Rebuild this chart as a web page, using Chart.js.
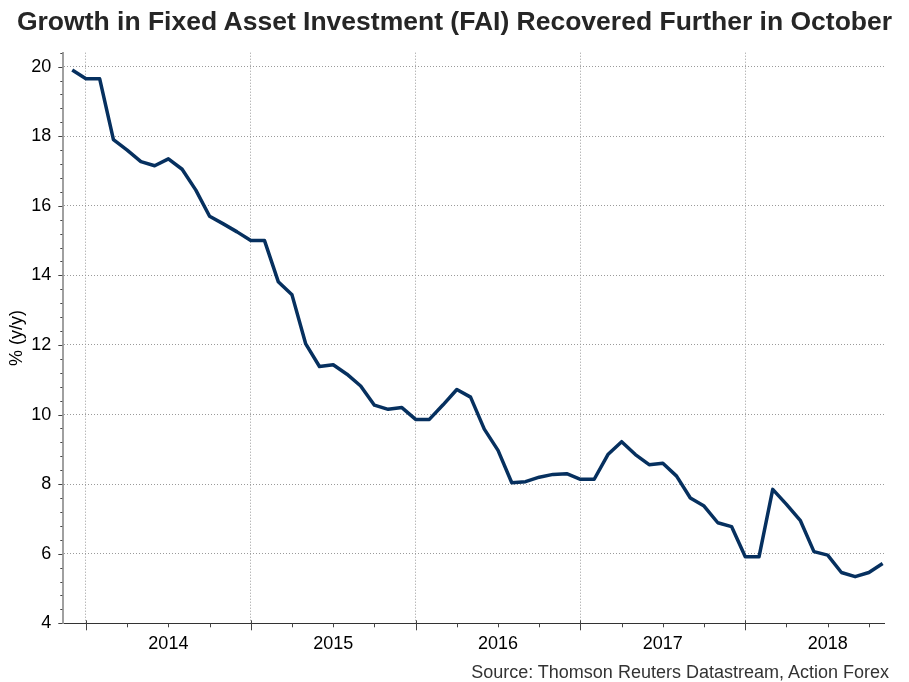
<!DOCTYPE html>
<html>
<head>
<meta charset="utf-8">
<script src="https://cdn.jsdelivr.net/npm/chart.js@4"></script>
<style>
  body{margin:0;background:#fff;}
  #wrap{position:relative;width:909px;height:682px;font-family:"Liberation Sans",Arial,sans-serif;}
  #title{position:absolute;left:0;top:8px;width:909px;text-align:center;font-weight:bold;font-size:26.5px;line-height:26.5px;color:#262626;white-space:nowrap;}
  #source{position:absolute;right:20px;top:663px;font-size:18px;line-height:18px;color:#333;white-space:nowrap;}
  #box{position:absolute;left:0;top:0;width:909px;height:682px;}
</style>
</head>
<body>
<div id="wrap">
  <div id="box"><canvas id="faiChart"></canvas></div>
  <div id="title">Growth in Fixed Asset Investment (FAI) Recovered Further in October</div>
  <div id="source">Source: Thomson Reuters Datastream, Action Forex</div>
</div>
<script>
// monthly, end of month (Dec at the year line)
const months = [
  "2013-11","2013-12",
  "2014-01","2014-02","2014-03","2014-04","2014-05","2014-06","2014-07","2014-08","2014-09","2014-10","2014-11","2014-12",
  "2015-01","2015-02","2015-03","2015-04","2015-05","2015-06","2015-07","2015-08","2015-09","2015-10","2015-11","2015-12",
  "2016-01","2016-02","2016-03","2016-04","2016-05","2016-06","2016-07","2016-08","2016-09","2016-10","2016-11","2016-12",
  "2017-01","2017-02","2017-03","2017-04","2017-05","2017-06","2017-07","2017-08","2017-09","2017-10","2017-11","2017-12",
  "2018-01","2018-02","2018-03","2018-04","2018-05","2018-06","2018-07","2018-08","2018-09","2018-10"
];
const faiGrowth = [
  19.9,19.65,
  19.65,17.9,17.6,17.27,17.15,17.35,17.05,16.45,15.7,15.48,15.25,15.0,
  15.0,13.82,13.44,12.03,11.38,11.43,11.16,10.82,10.27,10.15,10.2,9.86,
  9.86,10.28,10.72,10.5,9.58,8.97,8.04,8.07,8.2,8.28,8.3,8.14,
  8.14,8.85,9.22,8.85,8.56,8.6,8.23,7.6,7.37,6.89,6.78,5.91,
  5.91,7.85,7.42,6.96,6.06,5.96,5.46,5.34,5.46,5.72
];
const years = ["2014","2015","2016","2017","2018"];
const yMin = 4, yMax = 20.4, yMajor = 2, yMinor = 0.4;

// x = months since Dec 2013
const points = faiGrowth.map((v,i)=>({x:i-1,y:v}));

const isMajorY = v => Math.abs(v/yMajor-Math.round(v/yMajor))<1e-6;
const isYearLine = v => v%12===0;
const FONT = "'Liberation Sans', Arial, sans-serif";

// small tick marks drawn by hand (major ones longer)
const tickMarks = {
  id:"tickMarks",
  afterDraw(chart){
    const {ctx,scales:{x,y}} = chart;
    ctx.save();
    ctx.strokeStyle="#444";
    ctx.lineWidth=1;
    y.ticks.forEach(t=>{
      const py=Math.round(y.getPixelForValue(t.value))+0.5;
      const len=isMajorY(t.value)?5:3;
      ctx.beginPath();ctx.moveTo(y.right-len,py);ctx.lineTo(y.right-1,py);ctx.stroke();
    });
    x.ticks.forEach(t=>{
      const px=Math.round(x.getPixelForValue(t.value))+0.5;
      const b=x.top;
      ctx.beginPath();
      if(isYearLine(t.value)){ctx.moveTo(px,b-3);ctx.lineTo(px,b+7);}
      else{ctx.moveTo(px,b);ctx.lineTo(px,b+4);}
      ctx.stroke();
    });
    ctx.restore();
  }
};

new Chart(document.getElementById("faiChart"),{
  type:"line",
  data:{datasets:[{
    label:"FAI",
    data:points,
    borderColor:"#06305f",
    borderWidth:3.5,
    pointRadius:0,
    tension:0,
    borderJoinStyle:"round",
    fill:false
  }]},
  options:{
    responsive:true,
    maintainAspectRatio:false,
    animation:false,
    layout:{autoPadding:false,padding:{top:52.7,right:25,bottom:0,left:0}},
    plugins:{legend:{display:false},tooltip:{enabled:false}},
    scales:{
      x:{
        type:"linear",
        min:-1.65,max:58.1,
        afterBuildTicks(s){
          const t=[];for(let m=0;m<=57;m+=3)t.push({value:m});
          s.ticks=t;
        },
        afterFit(s){s.height=58.7;},
        ticks:{
          autoSkip:false,maxRotation:0,padding:10,color:"#000",
          font:{family:FONT,size:18},
          callback:v=>(v%12===6?years[(v-6)/12]:"")
        },
        grid:{
          drawTicks:false,
          color:c=>(c.tick&&isYearLine(c.tick.value)?"#9a9a9a":"rgba(0,0,0,0)"),
          lineWidth:1
        },
        border:{color:"#333",width:1,dash:[1,2]}
      },
      y:{
        min:yMin,max:yMax,
        afterBuildTicks(s){
          const t=[];for(let i=0;i<=Math.round((yMax-yMin)/yMinor);i++)t.push({value:Math.round((yMin+i*yMinor)*10)/10});
          s.ticks=t;
        },
        afterFit(s){s.width=63.3;},
        ticks:{
          autoSkip:false,padding:12,color:"#000",
          font:{family:FONT,size:18},
          callback:v=>(isMajorY(v)?String(Math.round(v)):"")
        },
        grid:{
          drawTicks:false,
          color:c=>(c.tick&&isMajorY(c.tick.value)?"#9a9a9a":"rgba(0,0,0,0)"),
          lineWidth:1
        },
        border:{color:"#a0a0a0",width:2,dash:[1,2]},
        title:{display:true,text:"% (y/y)",color:"#000",font:{family:FONT,size:18},padding:{top:6,bottom:0}}
      }
    }
  },
  plugins:[tickMarks]
});
</script>
</body>
</html>
